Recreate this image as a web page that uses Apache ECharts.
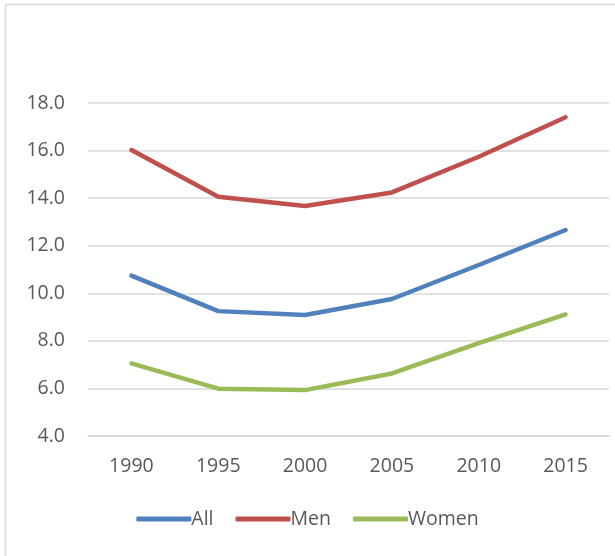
<!DOCTYPE html>
<html>
<head>
<meta charset="utf-8">
<script src="https://cdn.jsdelivr.net/npm/echarts@6/dist/echarts.min.js"></script>
<style>html,body{margin:0;padding:0;background:#fff;}#c{width:615px;height:556px;}</style>
</head>
<body>
<div id="c"></div>
<script>
const categories = ['1990','1995','2000','2005','2010','2015'];
const allValues = [10.74, 9.25, 9.09, 9.76, 11.19, 12.66];
const menValues = [16.02, 14.06, 13.67, 14.24, 15.74, 17.40];
const womenValues = [7.05, 5.99, 5.93, 6.63, 7.90, 9.11];
const seriesNames = ['All','Men','Women'];
const colors = ['#4f81bd','#c0504d','#9bbb59'];
const FONT = 'Open Sans, Noto Sans, sans-serif';

const chart = echarts.init(document.getElementById('c'), null, {renderer:'canvas'});
const mk = (name, data, color) => ({
  name, type:'line', data, symbol:'none', smooth:false,
  lineStyle:{color, width:4.5, cap:'round', join:'round'},
  itemStyle:{color}, emphasis:{disabled:true}
});
chart.setOption({
  animation:false,
  color: colors,
  graphic:[{type:'polyline', shape:{points:[[5.5,556],[5.5,4.5],[615,4.5]]}, style:{stroke:'#d9d9d9', lineWidth:1.5, fill:null}, silent:true}],
  grid:{left:88, right:6, top:103, bottom:120, containLabel:false},
  legend:{
    data: seriesNames, bottom:22, left:'center',
    itemWidth:55, itemHeight:5, itemGap:22, icon:'roundRect',
    textStyle:{fontFamily:FONT, fontSize:19.5, color:'#595959', padding:[0,0,0,-5]}
  },
  xAxis:{
    type:'category', data:categories, boundaryGap:true,
    axisLine:{show:true, lineStyle:{color:'#d9d9d9', width:1.5}},
    axisTick:{show:false},
    axisLabel:{fontFamily:FONT, fontSize:19.5, color:'#595959', margin:20}
  },
  yAxis:{
    type:'value', min:4, max:18, interval:2,
    axisLine:{show:false}, axisTick:{show:false},
    splitLine:{lineStyle:{color:'#d9d9d9', width:1.5}},
    axisLabel:{fontFamily:FONT, fontSize:19.5, color:'#595959', margin:23, formatter:v=>v.toFixed(1)}
  },
  series:[mk('All',allValues,colors[0]), mk('Men',menValues,colors[1]), mk('Women',womenValues,colors[2])]
});
</script>
</body>
</html>
